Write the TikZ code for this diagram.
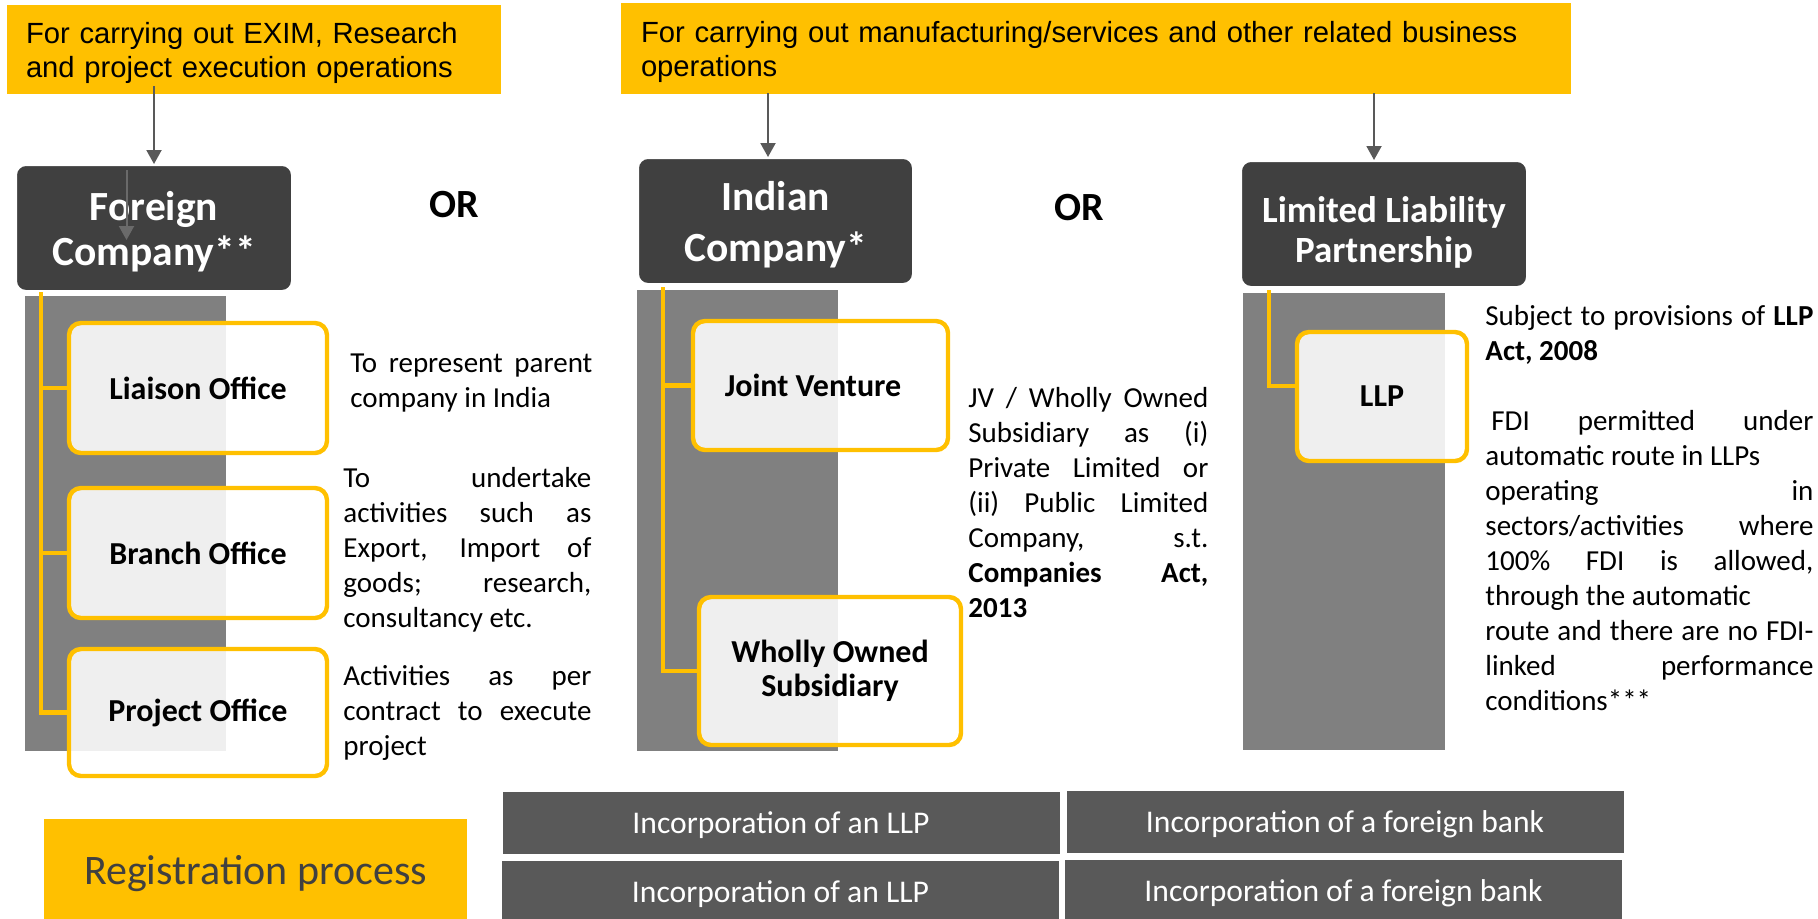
\documentclass[tikz,border=0pt]{standalone}
\usepackage{fontspec}
\setmainfont{Carlito}
\newfontfamily\arialfont{Liberation Sans}
\usetikzlibrary{arrows.meta,calc}

\definecolor{amber}{HTML}{FFC000}
\definecolor{charcoal}{HTML}{404040}
\definecolor{slate}{HTML}{595959}
\definecolor{bandgray}{HTML}{808080}

\tikzset{
  purpose/.style={fill=amber, inner ysep=0pt, align=left,
    font=\arialfont\fontsize{14.6}{17.25}\selectfont},
  entity/.style={rounded corners=5pt, fill=charcoal, draw=white, line width=1pt,
    text=white, align=center, inner sep=0pt, text depth=0pt,
    minimum width=138pt, minimum height=63pt},
  office/.style={rounded corners=6pt, draw=amber, line width=2.2pt,
    fill=white, fill opacity=0.88, text opacity=1, align=center, inner sep=0pt,
    font=\bfseries\fontsize{16}{17}\selectfont},
  trunk/.style={draw=amber, line width=2.2pt},
  flow/.style={draw=slate, line width=1pt, -{Triangle[width=7.5pt,length=7pt]}},
  choice/.style={anchor=base, inner sep=0pt, font=\bfseries\fontsize{20}{24}\selectfont},
  % notes are placed by the baseline of their last line
  note/.style={anchor=base west, inner sep=0pt, align=left,
    font=\fontsize{14.5}{17.5}\selectfont},
  procbox/.style={fill=slate, text=white, inner sep=0pt, text depth=0pt,
    minimum width=278.5pt, minimum height=31pt,
    font=\fontsize{15.8}{19}\selectfont}
}

\begin{document}
\begin{tikzpicture}[x=0.5pt, y=-0.5pt]
  \clip (0,0) rectangle (1818,918);
  \useasboundingbox (0,0) rectangle (1818,918);

  % purpose banners
  \node[purpose, inner xsep=9.5pt, minimum width=247pt, minimum height=44.5pt,
        text width=228pt] (top1) at (254,49.5)
    {\rule{0pt}{14.2pt}For carrying out EXIM, Research\\and project execution operations};
  \node[purpose, inner xsep=10pt, minimum width=475pt, minimum height=45.5pt,
        text width=455pt] (top2) at (1096,48.5)
    {\rule{0pt}{14.2pt}For carrying out manufacturing/services and other related business\\operations};

  % grey backing bands
  \fill[bandgray] (25,296) rectangle (226,751);
  \fill[bandgray] (637,290) rectangle (838,751);
  \fill[bandgray] (1243,293) rectangle (1445,750);

  % entity headings
  \node[entity, font=\bfseries\fontsize{20.75}{22.5}\selectfont] (fc) at (154,228)
    {Foreign\\Company**};
  \node[entity, minimum width=137.5pt, font=\bfseries\fontsize{20.75}{25.5}\selectfont]
    (ic) at (775.5,221) {Indian\\Company*};
  \node[entity, minimum width=143pt, font=\bfseries\fontsize{18.5}{20}\selectfont]
    (lc) at (1384,224) {\rule{0pt}{18pt}Limited Liability\\Partnership};

  \node[choice] (or1) at (454,217) {OR};
  \node[choice] (or2) at (1079,220) {OR};

  % arrows from the banners
  \draw[flow] ($(top1.south)+(-100,-8)$) coordinate (a1) -- (a1 |- fc.north);
  \draw[flow] ($(ic.north)+(-7.5,-64)$) coordinate (a2) -- (a2 |- ic.north);
  \draw[flow] ($(lc.north)+(-10,-67)$) coordinate (a3) -- (a3 |- lc.north);
  \draw[flow, draw=slate!90!white] ($(fc.center)+(-27.5,-58)$) coordinate (a4)
    -- ($(fc.center)+(-27.5,12)$);

  % office boxes
  \node[office, minimum width=129pt, minimum height=65pt] (lo) at (198,388) {Liaison Office};
  \node[office, minimum width=129pt, minimum height=65pt] (bo) at (198,553) {Branch Office};
  \node[office, minimum width=129pt, minimum height=63.5pt] (po) at (198,712.5) {Project Office};
  \node[office, minimum width=127.5pt, minimum height=64.5pt] (jv) at (820.5,385.5)
    {Joint Venture\hspace*{7.5pt}};
  \node[office, minimum width=131pt, minimum height=74pt] (ws) at (830,671)
    {Wholly Owned\\Subsidiary};
  \node[office, minimum width=85pt, minimum height=64.5pt] (lp) at (1382,396.5) {LLP};

  % connecting trees
  \coordinate (t1) at (41,292);
  \draw[trunk] (t1) |- (lo.west);
  \draw[trunk] (t1) |- (bo.west);
  \draw[trunk] (t1) |- (po.west);
  \coordinate (t2) at (663,287);
  \draw[trunk] (t2) |- (jv.west);
  \draw[trunk] (t2) |- (ws.west);
  \coordinate (t3) at (1269,290);
  \draw[trunk] (t3) |- ($(lp.west)+(0,-10.5)$);

  % descriptions
  \node[note] (d1) at (350,407)
    {\makebox[121pt][s]{To represent parent}\\company in India};
  \node[note] (d2) at (343,627)
    {\makebox[124pt][s]{To undertake}\\
     \makebox[124pt][s]{activities such as}\\
     \makebox[124pt][s]{Export, Import of}\\
     \makebox[124pt][s]{goods; research,}\\
     consultancy etc.};
  \node[note] (d3) at (343,755)
    {\makebox[124pt][s]{Activities as per}\\
     \makebox[124pt][s]{contract to execute}\\
     project};
  \node[note] (d4) at (968,617)
    {\makebox[120pt][s]{JV / Wholly Owned}\\
     \makebox[120pt][s]{Subsidiary as (i)}\\
     \makebox[120pt][s]{Private Limited or}\\
     \makebox[120pt][s]{(ii) Public Limited}\\
     \makebox[120pt][s]{Company, s.t.}\\
     \makebox[120pt][s]{\textbf{Companies Act,}}\\
     \textbf{2013}};
  \node[note] (d5) at (1485,710)
    {\makebox[164pt][s]{Subject to provisions of \textbf{LLP}}\\
     \textbf{Act, 2008}\\
     \mbox{}\\
     \makebox[164pt][s]{\hspace*{3pt}FDI permitted under}\\
     automatic route in LLPs\\
     \makebox[164pt][s]{operating in}\\
     \makebox[164pt][s]{sectors/activities where}\\
     \makebox[164pt][s]{100\% FDI is allowed,}\\
     through the automatic\\
     \makebox[164pt][s]{route and there are no FDI-}\\
     \makebox[164pt][s]{linked performance}\\
     conditions***};

  % registration process strip
  \node[fill=amber, text=charcoal, text depth=0pt, minimum width=211.5pt,
        minimum height=51pt, font=\fontsize{21}{25}\selectfont] (reg) at (255.5,870)
    {Registration process};
  \node[procbox] (p1) at (781,823) {Incorporation of an LLP};
  \node[procbox] (p2) at (1345,822) {Incorporation of a foreign bank};
  \node[procbox] (p3) at (780.5,892) {Incorporation of an LLP};
  \node[procbox] (p4) at (1343.5,891) {Incorporation of a foreign bank};
\end{tikzpicture}
\end{document}
